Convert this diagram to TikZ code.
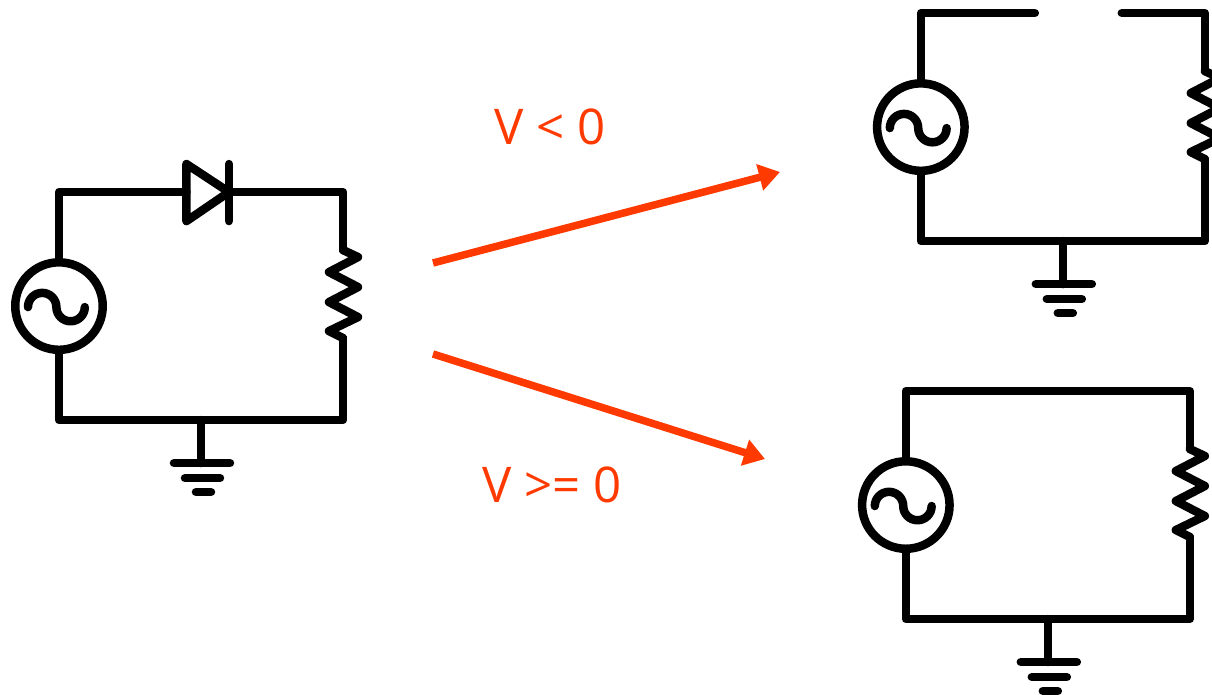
\documentclass[tikz,border=0pt]{standalone}
\usepackage{fontspec}
\setmainfont{Open Sans}
\usetikzlibrary{arrows.meta}
\definecolor{vorange}{HTML}{FF3A00}
\begin{document}
\begin{tikzpicture}[x=0.02cm, y=0.02cm]
    \tikzstyle{wire} = [line width=0.17cm, black, line join=round, line cap=round]
    \tikzstyle{srcnode} = [line width=0.17cm, draw=black, circle, inner sep=0pt, minimum size=1.75cm]
    \tikzstyle{vlabel} = [text=vorange, inner sep=0pt, font=\fontsize{28}{30}\selectfont]
    \tikzstyle{varrow} = [line width=0.15cm, vorange, -{Triangle[length=0.42cm, width=0.52cm]}]

    \clip (0,0) rectangle (1212,695);

    % circuit with diode
    \begin{scope}[xshift=1.18cm, yshift=7.78cm]
    \node[srcnode] (src1) at (0,0) {};
    \draw[wire] (-31,-1) arc[start angle=180, end angle=0, radius=14.2]
        arc[start angle=180, end angle=360, radius=14.2];

    \coordinate (da1) at (127.5,114);
    \coordinate (dk1) at (170,114);
    \coordinate (rt1) at (284,56);
    \coordinate (rb1) at (284,-32);
    \coordinate (gnd1) at (142,-114);
    \coordinate (gb1) at (142,-157);

    \draw[wire] (127.5,142) -- (170,114) -- (127.5,85) -- cycle;
    \draw[wire] (170,142) -- (170,85);

    \draw[wire] (rt1) -- (299,49) -- (270,34) -- (299,19) -- (270,4) -- (299,-11) -- (270,-25) -- (rb1);

    \draw[wire] (src1.north) |- (da1);
    \draw[wire] (dk1) -| (rt1);
    \draw[wire] (src1.south) |- (gnd1);
    \draw[wire] (rb1) |- (gnd1);

    \draw[wire] (gnd1) -- (gb1);
    \draw[wire] (115,-157) -- (171,-157);
    \draw[wire] (126,-172) -- (161,-172);
    \draw[wire] (137,-186) -- (152,-186);
    \end{scope}

    % open circuit
    \begin{scope}[xshift=18.42cm, yshift=11.36cm]
    \node[srcnode] (src2) at (0,0) {};
    \draw[wire] (-31,-1) arc[start angle=180, end angle=0, radius=14.2]
        arc[start angle=180, end angle=360, radius=14.2];

    \coordinate (da2) at (114,114);
    \coordinate (dk2) at (201,114);
    \coordinate (rt2) at (284,56);
    \coordinate (rb2) at (284,-32);
    \coordinate (gnd2) at (142,-114);
    \coordinate (gb2) at (142,-157);

    \draw[wire] (rt2) -- (299,49) -- (270,34) -- (299,19) -- (270,4) -- (299,-11) -- (270,-25) -- (rb2);

    \draw[wire] (src2.north) |- (da2);
    \draw[wire] (dk2) -| (rt2);
    \draw[wire] (src2.south) |- (gnd2);
    \draw[wire] (rb2) |- (gnd2);

    \draw[wire] (gnd2) -- (gb2);
    \draw[wire] (115,-157) -- (171,-157);
    \draw[wire] (126,-172) -- (161,-172);
    \draw[wire] (137,-186) -- (152,-186);
    \end{scope}

    % closed circuit
    \begin{scope}[xshift=18.12cm, yshift=3.8cm]
    \node[srcnode] (src3) at (0,0) {};
    \draw[wire] (-31,-1) arc[start angle=180, end angle=0, radius=14.2]
        arc[start angle=180, end angle=360, radius=14.2];

    \coordinate (rc3) at (284,114);
    \coordinate (rt3) at (284,56);
    \coordinate (rb3) at (284,-32);
    \coordinate (gnd3) at (142,-114);
    \coordinate (gb3) at (142,-157);

    \draw[wire] (rt3) -- (299,49) -- (270,34) -- (299,19) -- (270,4) -- (299,-11) -- (270,-25) -- (rb3);

    \draw[wire] (src3.north) |- (rc3) -- (rt3);
    \draw[wire] (src3.south) |- (gnd3);
    \draw[wire] (rb3) |- (gnd3);

    \draw[wire] (gnd3) -- (gb3);
    \draw[wire] (115,-157) -- (171,-157);
    \draw[wire] (126,-172) -- (161,-172);
    \draw[wire] (137,-186) -- (152,-186);
    \end{scope}

    \coordinate (a1s) at (433,432);
    \coordinate (a1e) at (780,523);
    \coordinate (a2s) at (433,341);
    \coordinate (a2e) at (765,236);

    \draw[varrow] (a1s) -- (a1e);
    \draw[varrow] (a2s) -- (a2e);

    \node[vlabel] (vneg) at (550,568) {V < 0};
    \node[vlabel] (vpos) at (552,210) {V >= 0};
\end{tikzpicture}
\end{document}
